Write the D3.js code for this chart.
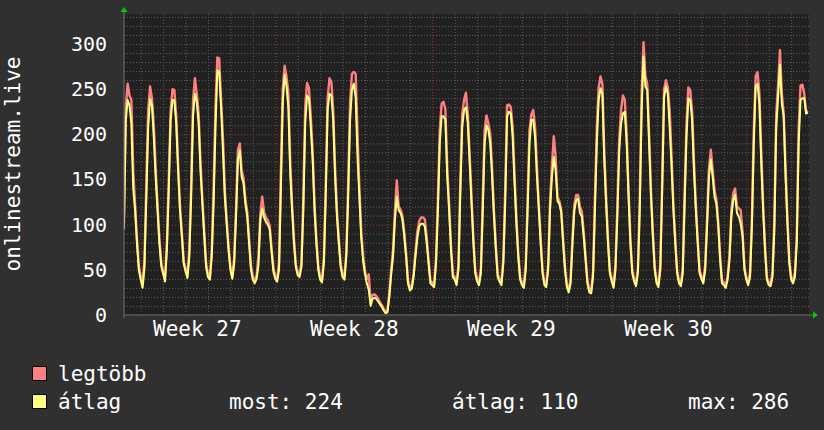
<!DOCTYPE html>
<html><head><meta charset="utf-8">
<script src="https://cdn.jsdelivr.net/npm/d3@7"></script>
<style>
html,body{margin:0;padding:0;background:#303030;}
svg{display:block;}
text{font-family:"DejaVu Sans Mono",monospace;fill:#ffffff;}
</style></head>
<body>
<script>
// ---- data (2-hour samples, starting at day -0.75) ----
const sampleStart = -0.75;       // in days, relative to first midnight
const sampleStep = 1 / 12;       // 2 hours
const avgSeries = [
  95,215,238,232,212,140,116,79,50,
  39,30,52,130,208,239,232,197,153,116,79,54,
  46,37,72,138,216,238,238,212,160,116,87,57,
  48,41,64,131,220,245,236,212,160,123,87,53,
  42,39,64,123,208,271,269,230,182,131,100,72,
  50,40,57,109,172,182,153,146,123,109,79,50,
  39,35,40,55,105,118,108,103,100,95,70,48,
  40,37,50,140,235,266,253,230,156,116,79,53,
  44,42,53,116,212,243,240,208,172,116,79,50,
  39,36,57,131,227,245,243,216,153,109,79,53,
  42,39,64,131,215,249,256,241,175,130,85,60,
  45,35,28,10,18,19,18,15,12,9,5,2,
  3,20,45,65,105,131,116,113,106,87,64,35,
  27,29,42,65,85,98,101,101,98,80,57,35,
  33,31,57,116,190,220,220,216,153,116,72,42,
  39,33,50,135,208,227,230,212,168,123,79,46,
  37,33,46,116,190,210,205,190,153,109,72,42,
  37,33,57,123,220,225,223,197,146,101,64,39,
  33,30,50,116,190,216,216,197,153,116,79,46,
  33,31,50,116,153,175,160,126,123,113,79,50,
  31,25,35,79,116,127,129,113,109,87,61,35,
  25,24,42,116,190,238,251,245,172,123,79,46,
  37,30,50,109,182,212,223,225,190,131,79,46,
  37,32,46,116,227,286,253,249,190,131,87,50,
  35,31,50,138,241,253,245,208,165,116,79,46,
  35,32,46,123,197,240,238,216,160,116,79,46,
  40,35,50,98,153,172,153,131,123,98,61,35,
  33,30,39,61,109,127,133,113,109,101,87,50,
  39,33,42,98,190,253,256,234,168,116,72,39,
  33,32,42,94,208,241,277,234,220,153,101,57,
  39,35,42,79,190,238,240,240,223,224
];
const maxSeries = [
  100,228,256,243,238,160,122,85,54,
  42,36,60,145,227,253,240,210,162,122,85,58,
  48,42,80,150,225,250,249,220,168,122,92,60,
  51,44,72,145,238,262,245,222,168,128,92,57,
  45,42,72,140,230,285,284,238,196,138,106,76,
  53,43,62,118,183,190,160,152,128,114,84,54,
  42,38,44,65,112,131,114,108,105,99,75,52,
  43,40,58,160,250,276,264,245,170,122,84,56,
  47,45,58,130,230,257,251,220,180,122,84,54,
  42,39,64,145,240,262,258,226,162,115,84,56,
  45,42,70,145,235,267,269,267,200,140,92,65,
  48,40,45,16,22,23,21,18,14,11,7,4,
  5,24,50,72,115,149,120,117,110,92,68,38,
  30,32,46,70,92,104,108,108,106,86,61,38,
  36,34,63,128,205,234,236,228,163,122,78,45,
  42,36,56,150,222,238,246,222,178,130,85,49,
  40,36,52,128,205,221,212,201,162,115,77,45,
  40,36,63,138,232,233,230,208,156,107,68,42,
  36,33,56,128,205,222,227,208,162,122,84,49,
  36,34,56,126,165,198,175,130,126,116,84,53,
  34,28,40,86,122,133,133,120,115,92,65,38,
  28,27,48,128,205,252,264,256,182,130,85,49,
  40,33,56,120,195,227,243,238,200,138,84,49,
  40,35,52,130,245,302,265,256,200,138,92,53,
  38,34,56,150,250,260,252,227,176,122,84,49,
  38,35,52,136,212,252,249,226,170,122,84,49,
  43,38,55,106,162,183,160,138,128,103,65,38,
  36,33,43,66,116,135,140,120,118,116,92,53,
  42,36,47,108,205,264,269,245,180,122,77,42,
  36,35,47,104,222,254,293,245,223,163,107,61,
  42,38,47,88,205,254,255,245,225,226
];
const yTicks = [0,50,100,150,200,250,300];
const weekTickDays = [2.5, 9.5, 16.5, 23.5];
const weekLabels = ["Week 27","Week 28","Week 29","Week 30"];
const weekBoundaryDays = [6, 13, 20, 27];
const legendItems = [
  {label:"legtöbb", color:"#ff8080"},
  {label:"átlag", color:"#ffff80"}
];
const statLabels = ["most: 224", "átlag: 110", "max: 286"];
const axisTitle = "onlinestream.live";

// ---- layout ----
const W = 824, H = 430;
const plot = {left:124, right:809, top:14, bottom:315};
const xDomain = [-0.745, 29.795];
const yDomain = [0, 333.2];

const svg = d3.select("body").append("svg").attr("width",W).attr("height",H);
svg.append("rect").attr("width",W).attr("height",H).attr("fill","#303030");

const x = d3.scaleLinear().domain(xDomain).range([plot.left, plot.right]);
const y = d3.scaleLinear().domain(yDomain).range([plot.bottom, plot.top]);

svg.append("rect").attr("x",plot.left).attr("y",plot.top)
  .attr("width",plot.right-plot.left).attr("height",plot.bottom-plot.top)
  .attr("fill","#212121");

svg.append("defs").append("clipPath").attr("id","clip").append("rect")
  .attr("x",plot.left).attr("y",plot.top-2)
  .attr("width",plot.right-plot.left).attr("height",plot.bottom-plot.top+2);

// grid: minor horizontal (every 10)
const minorY = d3.range(10, 334, 10).filter(v => v % 50 !== 0);
const gMinorY = svg.append("g").attr("transform",`translate(${plot.left},0)`)
  .call(d3.axisLeft(y).tickValues(minorY).tickSize(-(plot.right-plot.left)).tickFormat(""));
gMinorY.select(".domain").remove();
gMinorY.selectAll("line").attr("stroke","#606060").attr("stroke-dasharray","1,2");

// minor vertical (every day)
const dayLines = d3.range(0, 30).filter(d => !weekBoundaryDays.includes(d));
const gMinorX = svg.append("g").attr("transform",`translate(0,${plot.bottom})`)
  .call(d3.axisBottom(x).tickValues(dayLines).tickSize(-(plot.bottom-plot.top)).tickFormat(""));
gMinorX.select(".domain").remove();
gMinorX.selectAll("line").attr("stroke","#606060").attr("stroke-dasharray","1,2");

// major horizontal
const gMajorY = svg.append("g").attr("transform",`translate(${plot.left},0)`)
  .call(d3.axisLeft(y).tickValues(yTicks.filter(v=>v>0)).tickSize(-(plot.right-plot.left)).tickFormat(""));
gMajorY.select(".domain").remove();
gMajorY.selectAll("line").attr("stroke","#8a3c3c").attr("stroke-dasharray","1,2");

// major vertical
const gMajorX = svg.append("g").attr("transform",`translate(0,${plot.bottom})`)
  .call(d3.axisBottom(x).tickValues(weekBoundaryDays).tickSize(-(plot.bottom-plot.top)).tickFormat(""));
gMajorX.select(".domain").remove();
gMajorX.selectAll("line").attr("stroke","#8a3c3c").attr("stroke-dasharray","1,2");

// series
const toPoints = arr => arr.map((v,i) => ({t: sampleStart + i*sampleStep, v}));
const line = d3.line().x(d => x(d.t)).y(d => y(d.v)).curve(d3.curveLinear);
const gData = svg.append("g").attr("clip-path","url(#clip)");
gData.append("path").datum(toPoints(maxSeries)).attr("d",line)
  .attr("fill","none").attr("stroke","#ff8080").attr("stroke-width",2.4).attr("stroke-linejoin","round");
gData.append("path").datum(toPoints(avgSeries)).attr("d",line)
  .attr("fill","none").attr("stroke","#ffff80").attr("stroke-width",2).attr("stroke-linejoin","round");

// axes
const yAxis = svg.append("g").attr("transform",`translate(${plot.left},0)`)
  .call(d3.axisLeft(y).tickValues(yTicks).tickSize(0).tickPadding(17));
yAxis.select(".domain").remove();
yAxis.selectAll("text").style("font-family","DejaVu Sans Mono").style("font-size","20px").attr("fill","#ffffff");

const xAxis = svg.append("g").attr("transform",`translate(0,${plot.bottom})`)
  .call(d3.axisBottom(x).tickValues(weekTickDays).tickSize(0).tickPadding(6)
    .tickFormat((d,i) => weekLabels[i]));
xAxis.select(".domain").remove();
xAxis.selectAll("text").style("font-family","DejaVu Sans Mono").style("font-size","21px").attr("fill","#ffffff");

// axis lines
svg.append("line").attr("x1",plot.left).attr("x2",plot.right+4).attr("y1",plot.bottom).attr("y2",plot.bottom)
  .attr("stroke","#707070").attr("stroke-width",1);
svg.append("line").attr("x1",plot.left).attr("x2",plot.left).attr("y1",plot.bottom+3).attr("y2",plot.top-3)
  .attr("stroke","#707070").attr("stroke-width",1);
// arrows
svg.append("path").attr("d",`M${plot.left-3.5},${plot.top-2} L${plot.left+3.5},${plot.top-2} L${plot.left},${plot.top-7} Z`).attr("fill","#00cc00");
svg.append("path").attr("d",`M${plot.right+4},${plot.bottom-3.5} L${plot.right+4},${plot.bottom+3.5} L${plot.right+9},${plot.bottom} Z`).attr("fill","#00cc00");

// y-axis title
svg.append("text").attr("transform",`translate(20,164) rotate(-90)`)
  .attr("text-anchor","middle").style("font-size","21px").text(axisTitle);

// legend
const legRows = [381, 409];
legendItems.forEach((it,i) => {
  svg.append("rect").attr("x",32.5).attr("y",legRows[i]-14.5).attr("width",14).attr("height",14)
    .attr("fill",it.color).attr("stroke","#000").attr("stroke-width",1);
  svg.append("text").attr("x",58).attr("y",legRows[i]).style("font-size","21px").text(it.label);
});
const statX = [229, 452, 688];
statLabels.forEach((s,i) => {
  svg.append("text").attr("x",statX[i]).attr("y",legRows[1]).style("font-size","21px").text(s);
});
</script>
</body></html>
